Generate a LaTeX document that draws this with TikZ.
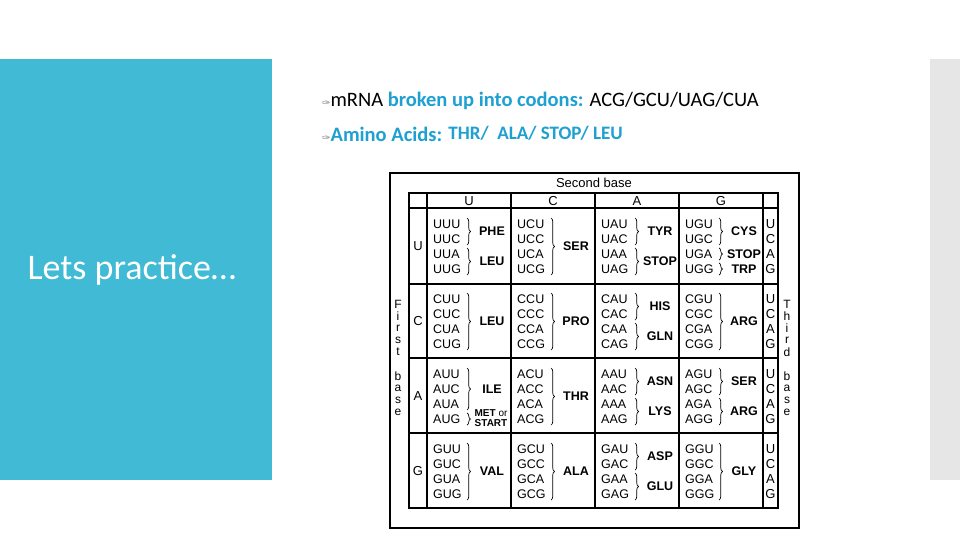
\documentclass[tikz,border=0pt]{standalone}
\usepackage{fontspec}
\setmainfont{Carlito}
\newfontfamily\tabfont{Liberation Sans}
\newfontfamily\symfont{DejaVu Sans}
\usetikzlibrary{decorations.pathreplacing}
\definecolor{slideblue}{RGB}{64,186,213}
\definecolor{txtblue}{RGB}{30,160,210}
\definecolor{stripgrey}{RGB}{230,230,230}
\tikzset{
  cod/.style={font=\tabfont\fontsize{12.5}{13}\selectfont, anchor=west, inner sep=0pt},
  aa/.style={font=\tabfont\bfseries\fontsize{12.5}{13}\selectfont, inner sep=0pt, align=center},
  hdr/.style={font=\tabfont\fontsize{13}{13}\selectfont, inner sep=0pt},
  brc/.style={decorate, decoration={brace, amplitude=3.5pt}, line width=0.7pt},
  grid/.style={line width=1.2pt}
}
\newcommand{\brk}[5]{% x0 y0 from to label
  \draw[brc] (#1+40,#2+10+15*#3) -- (#1+40,#2+22+15*#4);
  \node[aa] at (#1+65,#2+16+7.5*#3+7.5*#4) {#5};}
\begin{document}
\begin{tikzpicture}[x=1pt,y=-1pt]
\useasboundingbox (0,0) rectangle (960,540);
\fill[white] (0,0) rectangle (960,540);
\fill[slideblue] (0,59) rectangle (272,480);
\fill[stripgrey] (930,59) rectangle (960,480);
\node[anchor=west, text=white, font=\fontsize{36}{38}\selectfont] (title) at (24,270) {Lets practice…};
\node[anchor=west, inner sep=0pt, font=\fontsize{20.5}{22}\selectfont] (b1) at (322,101)
  {{\symfont\fontsize{10}{10}\selectfont\color{gray}✑}m{}RNA \textcolor{txtblue}{\textbf{broken up into codons:}} ACG/GCU/UAG/CUA};
\node[anchor=west, inner sep=0pt, font=\fontsize{20.5}{22}\selectfont] (b2) at (322,134)
  {{\symfont\fontsize{10}{10}\selectfont\color{gray}✑}\textcolor{txtblue}{\textbf{Amino Acids:} \raisebox{2pt}{\fontsize{19}{20}\selectfont\textbf{THR/\ \ ALA/ STOP/ LEU}}}};
% table
\draw[line width=1.4pt] (390,173) rectangle (799,528);
\node[hdr] (sb) at (594,183) {Second base};
\draw[grid] (409,193) rectangle (778,508);
\foreach \x in {427,511,595,679,763} \draw[grid] (\x,193) -- (\x,508);
\foreach \y in {208,284,358,433} \draw[grid] (409,\y) -- (778,\y);
\foreach \l [count=\i from 0] in {U,C,A,G} {
  \node[hdr] (h\i) at (469+84*\i,201) {\l};
  \node[hdr] (f\i) at (418,246+75*\i) {\l};
  \foreach \t [count=\j from 0] in {U,C,A,G}
    \node[hdr] (t\i\j) at (770.5,224+75*\i+15*\j) {\t};
}
\foreach \l [count=\j from 0] in {F,i,r,s,t,,b,a,s,e}
  \node[hdr, font=\tabfont\fontsize{12}{12}\selectfont] (fl\j) at (398,304+12*\j) {\l};
\foreach \l [count=\j from 0] in {T,h,i,r,d,,b,a,s,e}
  \node[hdr, font=\tabfont\fontsize{12}{12}\selectfont] (tl\j) at (787,304+12*\j) {\l};
% codons
\foreach \f [count=\r from 0] in {U,C,A,G}
 \foreach \s [count=\c from 0] in {U,C,A,G}
  \foreach \t [count=\k from 0] in {U,C,A,G}
   \node[cod] (n\f\s\t) at (433+84*\c,224+75*\r+15*\k) {\f\s\t};
% braces: row U
\brk{427}{208}{0}{1}{PHE}\brk{427}{208}{2}{3}{LEU}
\brk{511}{208}{0}{3}{SER}
\brk{595}{208}{0}{1}{TYR}\brk{595}{208}{2}{3}{STOP}
\brk{679}{208}{0}{1}{CYS}\brk{679}{208}{2}{2}{STOP}\brk{679}{208}{3}{3}{TRP}
% row C
\brk{427}{283}{0}{3}{LEU}\brk{511}{283}{0}{3}{PRO}
\brk{595}{283}{0}{1}{HIS}\brk{595}{283}{2}{3}{GLN}
\brk{679}{283}{0}{3}{ARG}
% row A
\brk{427}{358}{0}{2}{ILE}
\draw[brc] (467,413) -- (467,425);
\node[aa, font=\tabfont\bfseries\fontsize{10}{10}\selectfont] at (491,418) {MET {\mdseries or}\\START};
\brk{511}{358}{0}{3}{THR}
\brk{595}{358}{0}{1}{ASN}\brk{595}{358}{2}{3}{LYS}
\brk{679}{358}{0}{1}{SER}\brk{679}{358}{2}{3}{ARG}
% row G
\brk{427}{433}{0}{3}{VAL}\brk{511}{433}{0}{3}{ALA}
\brk{595}{433}{0}{1}{ASP}\brk{595}{433}{2}{3}{GLU}
\brk{679}{433}{0}{3}{GLY}
\end{tikzpicture}
\end{document}
